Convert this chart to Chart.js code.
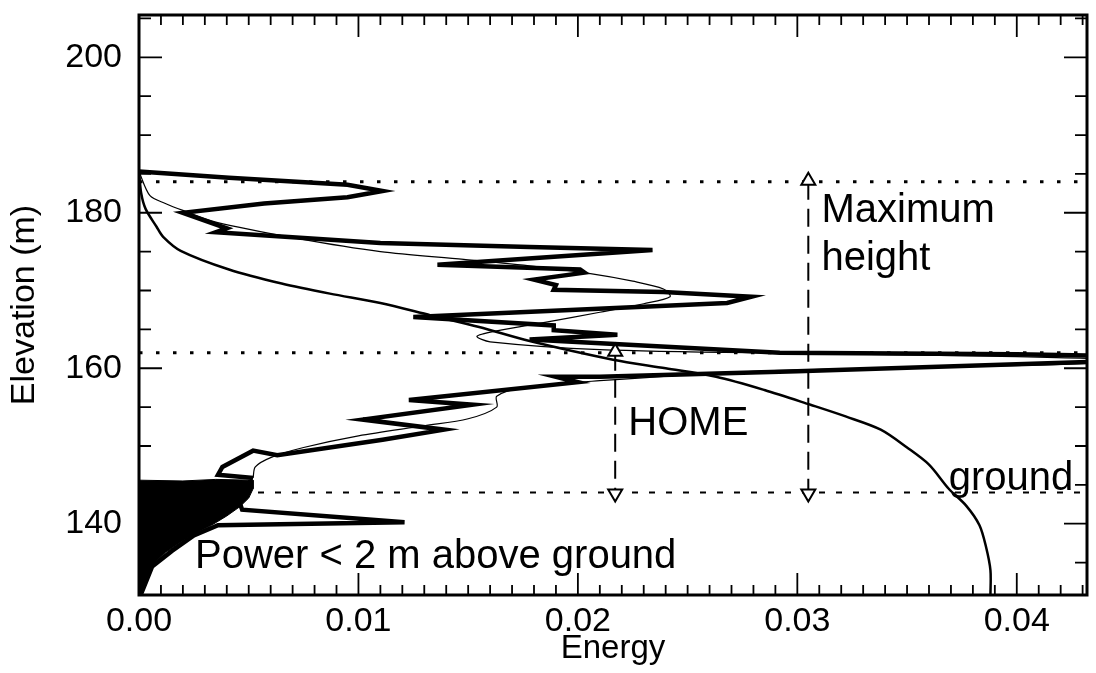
<!DOCTYPE html>
<html>
<head>
<meta charset="utf-8">
<script src="https://cdn.jsdelivr.net/npm/chart.js@4.4.1/dist/chart.umd.min.js"></script>
<style>
  html, body { margin: 0; padding: 0; background: #fff; }
  #wrap { width: 1096px; height: 673px; }
</style>
</head>
<body>
<div id="wrap"><canvas id="chart" width="1096" height="673"></canvas></div>
<script>
// axis ranges + tick labels
const xRange = [0, 0.0432];
const yRange = [130.83, 205.44];
const xTickLabels = [0, 0.01, 0.02, 0.03, 0.04];
const yTickLabels = [140, 160, 180, 200];

// measured energy profile (thick jagged line)
const thickEnergy = [0.0000, 0.0041, 0.0095, 0.0111, 0.0095, 0.0057, 0.0020, 0.0040, 0.0035, 0.0110, 0.0178, 0.0234,
  0.0136, 0.0201, 0.0203, 0.0180, 0.0190, 0.0189, 0.0239, 0.0279, 0.0268, 0.0125, 0.0189, 0.0189, 0.0218,
  0.0178, 0.0292, 0.0400, 0.0480, 0.0432, 0.0300, 0.0210, 0.0190, 0.0200, 0.0123, 0.0152, 0.0102, 0.0139,
  0.0111, 0.0063, 0.0052, 0.0038, 0.0036, 0.0051, 0.0050, 0.0046, 0.0047, 0.0121, 0.0036, 0.0025, 0.0015,
  0.0006, 0.0001];
const thickElev = [185.3, 184.5, 183.6, 182.8, 182.0, 181.2, 180.0, 178.0, 177.5, 176.1, 175.6, 175.2,
  173.3, 172.7, 172.3, 171.4, 170.7, 170.1, 169.8, 169.2, 168.4, 166.6, 165.5, 164.9, 164.3,
  163.7, 162.0, 161.8, 161.4, 160.8, 159.6, 158.9, 158.9, 158.2, 155.9, 155.3, 153.4, 152.1,
  150.8, 148.8, 149.4, 147.3, 146.3, 145.9, 144.5, 142.6, 141.8, 140.2, 139.8, 138.5, 136.5,
  134.5, 131.0];

// smoothed profile (thin line)
const thinEnergy = [0.0000, 0.0005, 0.0012, 0.0020, 0.0035, 0.0072, 0.0110, 0.0148, 0.0180, 0.0205, 0.0225, 0.0239,
  0.0242, 0.0230, 0.0210, 0.0185, 0.0163, 0.0154, 0.0160, 0.0210, 0.0300, 0.0400, 0.0450, 0.0420, 0.0350,
  0.0280, 0.0210, 0.0175, 0.0163, 0.0163, 0.0150, 0.0130, 0.0100, 0.0075, 0.0060, 0.0053, 0.0052];
const thinElev = [185.3, 182.2, 181.2, 180.3, 178.8, 176.7, 175.0, 174.0, 173.1, 172.2, 171.2, 170.2,
  169.2, 168.3, 167.2, 165.9, 164.8, 164.1, 163.4, 162.4, 161.9, 161.5, 161.0, 160.5, 160.1,
  159.6, 158.4, 157.5, 156.4, 155.0, 153.5, 152.6, 151.3, 149.8, 148.5, 147.3, 145.9];

// cumulative energy curve
const cumEnergy = [0.0000, 0.0001, 0.0003, 0.0008, 0.0011, 0.0019, 0.0041, 0.0065, 0.0087, 0.0110, 0.0133, 0.0155,
  0.0178, 0.0216, 0.0240, 0.0263, 0.0285, 0.0306, 0.0322, 0.0338, 0.0350, 0.0360, 0.0369, 0.0377, 0.0383,
  0.0386, 0.0388, 0.0388];
const cumElev = [185.3, 182.5, 180.5, 178.2, 176.9, 175.1, 172.7, 170.9, 169.6, 168.4, 166.8, 165.3,
  163.5, 161.1, 160.0, 158.9, 157.2, 155.3, 153.8, 152.1, 149.8, 147.6, 144.5, 142.3, 139.8,
  137.0, 134.0, 130.83];

// power within 2 m of ground (filled area)
const fillEnergy = [0.0000, 0.0020, 0.0035, 0.0052, 0.0052, 0.0050, 0.0046, 0.0040, 0.0033, 0.0026, 0.0019, 0.0012,
  0.0008, 0.0004, 0.0002, 0.0001, 0.0000];
const fillElev = [145.6, 145.5, 145.7, 145.6, 144.5, 143.3, 142.2, 141.0, 139.8, 138.8, 137.6, 136.3,
  135.2, 133.6, 132.0, 130.83, 130.83];

// reference levels and arrow markers
const refLevels = [184, 162, 144];
const homeEnergy = 0.0217, maxEnergy = 0.0305;
const homeTop = 162, maxTop = 184, groundLevel = 144;

const pts = (xs, ys) => xs.map((x, i) => ({ x: x, y: ys[i] }));

const FONT = '"Liberation Sans", Arial, Helvetica, sans-serif';

const datasets = [
  { data: pts(fillEnergy, fillElev), borderColor: '#000', backgroundColor: '#000', borderWidth: 1, fill: 'shape', pointRadius: 0 },
  { data: pts(thickEnergy, thickElev), borderColor: '#000', borderWidth: 4.5, borderJoinStyle: 'miter', pointRadius: 0, tension: 0 },
  { data: pts(thinEnergy, thinElev), borderColor: '#000', borderWidth: 1.2, pointRadius: 0, tension: 0.3 },
  { data: pts(cumEnergy, cumElev), borderColor: '#000', borderWidth: 2.5, pointRadius: 0, tension: 0.3 }
];
refLevels.forEach((lv, i) => {
  datasets.push({
    data: [{ x: xRange[0], y: lv }, { x: xRange[1], y: lv }],
    borderColor: '#000', borderWidth: i < 2 ? 3 : 2, borderDash: i < 2 ? [3.5, 13.5] : [6, 11],
    pointRadius: 0
  });
});
datasets.push({ data: [{ x: homeEnergy, y: homeTop }, { x: homeEnergy, y: groundLevel }], borderColor: '#000', borderWidth: 2, borderDash: [18, 9], pointRadius: 0 });
datasets.push({ data: [{ x: maxEnergy, y: maxTop }, { x: maxEnergy, y: groundLevel }], borderColor: '#000', borderWidth: 2, borderDash: [18, 9], pointRadius: 0 });

const labels = [
  { text: 'Maximum', x: 0.0311, y: 178.8 },
  { text: 'height', x: 0.0311, y: 172.6 },
  { text: 'HOME', x: 0.0223, y: 151.4 },
  { text: 'Power < 2 m above ground', x: 0.00255, y: 134.3 },
  { text: 'ground', x: 0.0369, y: 144.3 }
];

// box, inward ticks, arrowheads and labels
const framePlugin = {
  id: 'frame',
  afterDatasetsDraw(chart) {
    const { ctx, chartArea: a, scales: { x, y } } = chart;
    ctx.save();
    ctx.strokeStyle = '#000';
    ctx.lineWidth = 1.8;
    ctx.beginPath();
    for (let i = 0; i <= 43; i++) {
      const px = x.getPixelForValue(i / 1000);
      const len = i % 10 === 0 ? 22 : 10;
      ctx.moveTo(px, a.bottom); ctx.lineTo(px, a.bottom - len);
      ctx.moveTo(px, a.top); ctx.lineTo(px, a.top + len);
    }
    for (let v = 135; v <= 205; v += 5) {
      const py = y.getPixelForValue(v);
      const len = v % 20 === 0 ? 23 : 12;
      ctx.moveTo(a.left, py); ctx.lineTo(a.left + len, py);
      ctx.moveTo(a.right, py); ctx.lineTo(a.right - len, py);
    }
    ctx.stroke();
    ctx.lineWidth = 3;
    ctx.strokeRect(a.left, a.top, a.right - a.left, a.bottom - a.top);

    // open arrowheads
    const arrow = (ex, ev, dir) => {
      const px = x.getPixelForValue(ex), py = y.getPixelForValue(ev);
      const base = py + dir * 3, tip = py - dir * 9;
      ctx.beginPath();
      ctx.moveTo(px - 7, base); ctx.lineTo(px + 7, base); ctx.lineTo(px, tip); ctx.closePath();
      ctx.fillStyle = '#fff'; ctx.fill();
      ctx.lineWidth = 2; ctx.stroke();
    };
    arrow(homeEnergy, homeTop, 1);
    arrow(maxEnergy, maxTop, 1);
    arrow(homeEnergy, groundLevel, -1);
    arrow(maxEnergy, groundLevel, -1);

    ctx.fillStyle = '#000';
    ctx.font = '40px ' + FONT;
    ctx.textBaseline = 'alphabetic';
    ctx.textAlign = 'left';
    labels.forEach(l => ctx.fillText(l.text, x.getPixelForValue(l.x), y.getPixelForValue(l.y)));
    ctx.restore();
  }
};

new Chart(document.getElementById('chart'), {
  type: 'scatter',
  data: { datasets: datasets.map(d => Object.assign({ showLine: true, fill: false }, d)) },
  options: {
    responsive: false,
    animation: false,
    devicePixelRatio: 1,
    layout: { padding: { top: 15, right: 9, left: 0, bottom: 0 } },
    plugins: { legend: { display: false }, tooltip: { enabled: false } },
    scales: {
      x: {
        type: 'linear', min: xRange[0], max: xRange[1],
        afterBuildTicks: s => { s.ticks = xTickLabels.map(v => ({ value: v })); },
        afterFit: s => { s.height = 78; s.paddingLeft = 0; s.paddingRight = 0; },
        grid: { display: false, drawTicks: false },
        border: { display: false },
        ticks: { autoSkip: false, maxRotation: 0, padding: 6, color: '#000', font: { family: FONT, size: 34 }, callback: v => v.toFixed(2) },
        title: { display: true, text: 'Energy', color: '#000', font: { family: FONT, size: 33 }, padding: { top: 0, bottom: 4 } }
      },
      y: {
        type: 'linear', min: yRange[0], max: yRange[1],
        afterBuildTicks: s => { s.ticks = yTickLabels.map(v => ({ value: v })); },
        afterFit: s => { s.width = 139; s.paddingTop = 0; s.paddingBottom = 0; },
        grid: { display: false, drawTicks: false },
        border: { display: false },
        ticks: { autoSkip: false, padding: 17, color: '#000', font: { family: FONT, size: 34 }, callback: v => String(v) },
        title: { display: true, text: 'Elevation (m)', color: '#000', font: { family: FONT, size: 34 }, padding: { top: 4, bottom: 0 } }
      }
    }
  },
  plugins: [framePlugin]
});
</script>
</body>
</html>
